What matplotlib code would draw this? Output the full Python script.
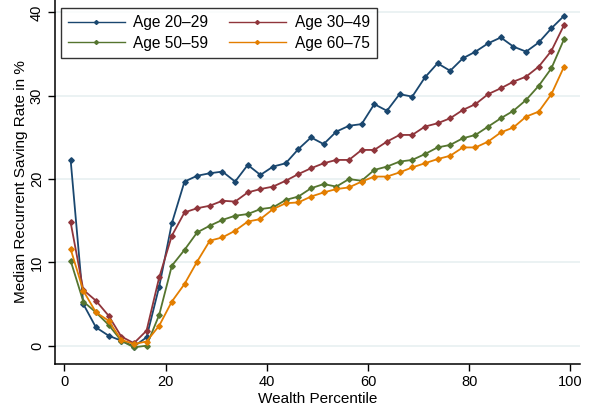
import numpy as np
import matplotlib
matplotlib.use("Agg")
from matplotlib import pyplot as plt

plt.rcParams.update({
    "font.family": ["Liberation Sans", "DejaVu Sans"],
    "font.size": 11,
    "axes.unicode_minus": False,
})

# wealth percentile bins (2.5 pct wide, plotted at midpoints)
percentile = np.arange(1.25, 100, 2.5)

age_20_29 = [22.3, 5.0, 2.2, 1.2, 0.6, -0.1, 1.0, 7.1, 14.7, 19.7,
             20.4, 20.7, 20.9, 19.7, 21.7, 20.5, 21.5, 21.9, 23.6, 25.0,
             24.2, 25.7, 26.4, 26.6, 29.0, 28.2, 30.2, 29.9, 32.2, 33.9,
             33.0, 34.5, 35.3, 36.3, 37.0, 35.9, 35.3, 36.4, 38.1, 39.6]
age_30_49 = [14.8, 6.7, 5.4, 3.6, 1.1, 0.3, 1.8, 8.2, 13.2, 16.0,
             16.5, 16.8, 17.4, 17.3, 18.4, 18.8, 19.1, 19.8, 20.6, 21.3,
             21.9, 22.3, 22.3, 23.5, 23.5, 24.5, 25.3, 25.3, 26.3, 26.7,
             27.3, 28.3, 29.0, 30.2, 30.9, 31.7, 32.3, 33.5, 35.4, 38.5]
age_50_59 = [10.2, 5.3, 4.0, 2.5, 0.6, -0.2, 0.0, 3.7, 9.6, 11.5,
             13.6, 14.4, 15.1, 15.6, 15.8, 16.4, 16.6, 17.5, 17.9, 18.9,
             19.4, 19.1, 20.0, 19.8, 21.1, 21.5, 22.1, 22.3, 23.0, 23.8,
             24.1, 24.9, 25.3, 26.3, 27.3, 28.2, 29.5, 31.2, 33.3, 36.8]
age_60_75 = [11.6, 6.6, 4.0, 3.0, 0.7, 0.2, 0.5, 2.4, 5.3, 7.4,
             10.1, 12.6, 13.0, 13.8, 14.9, 15.2, 16.4, 17.1, 17.2, 17.9,
             18.4, 18.8, 19.0, 19.7, 20.3, 20.3, 20.8, 21.4, 21.9, 22.4,
             22.8, 23.8, 23.8, 24.5, 25.6, 26.2, 27.5, 28.1, 30.2, 33.5]

series = [
    ("Age 20\u201329", age_20_29, "#1a476f"),
    ("Age 30\u201349", age_30_49, "#90353b"),
    ("Age 50\u201359", age_50_59, "#55752f"),
    ("Age 60\u201375", age_60_75, "#e37e00"),
]

fig = plt.figure(figsize=(5.92, 4.09), dpi=100)
ax = fig.add_axes([55 / 592, 1 - 364 / 409, 525 / 592, 364 / 409])

lines = []
for label, values, color in series:
    ln, = ax.plot(percentile, values, color=color, lw=1.3, marker="D",
                  markersize=2.8, label=label)
    lines.append(ln)

ax.set_xlim(-1.84, 101.9)
ax.set_ylim(-2.2, 41.5)
ax.set_xticks([0, 20, 40, 60, 80, 100])
ax.set_yticks([0, 10, 20, 30, 40])
ax.grid(axis="y", color="#e8f0f1", lw=1.2)
ax.set_axisbelow(True)

for loc in ["top", "right"]:
    ax.spines[loc].set_visible(False)
for loc in ["left", "bottom"]:
    ax.spines[loc].set_linewidth(1.1)

ax.tick_params(axis="both", length=5, width=1.0, labelsize=10.5, pad=3)
plt.setp(ax.get_yticklabels(), rotation=90, va="center")

ax.set_xlabel("Wealth Percentile", fontsize=11, labelpad=2)
ax.set_ylabel("Median Recurrent Saving Rate in %", fontsize=11, labelpad=1)

# legend filled row by row: 20-29 | 30-49 / 50-59 | 60-75
order = [0, 2, 1, 3]
leg = ax.legend([lines[i] for i in order], [series[i][0] for i in order],
                loc="upper left", bbox_to_anchor=(6 / 525, 1 - 8.3 / 364),
                ncol=2, fontsize=11.2, frameon=True, fancybox=False,
                edgecolor="black", handlelength=3.65, handletextpad=0.56,
                columnspacing=1.32, borderpad=0.45, labelspacing=0.36,
                borderaxespad=0)
leg.get_frame().set_linewidth(1.0)
for h in leg.legend_handles:
    h.set_linewidth(1.0)
    h.set_markersize(2.0)

fig.savefig("out.png", dpi=100)
